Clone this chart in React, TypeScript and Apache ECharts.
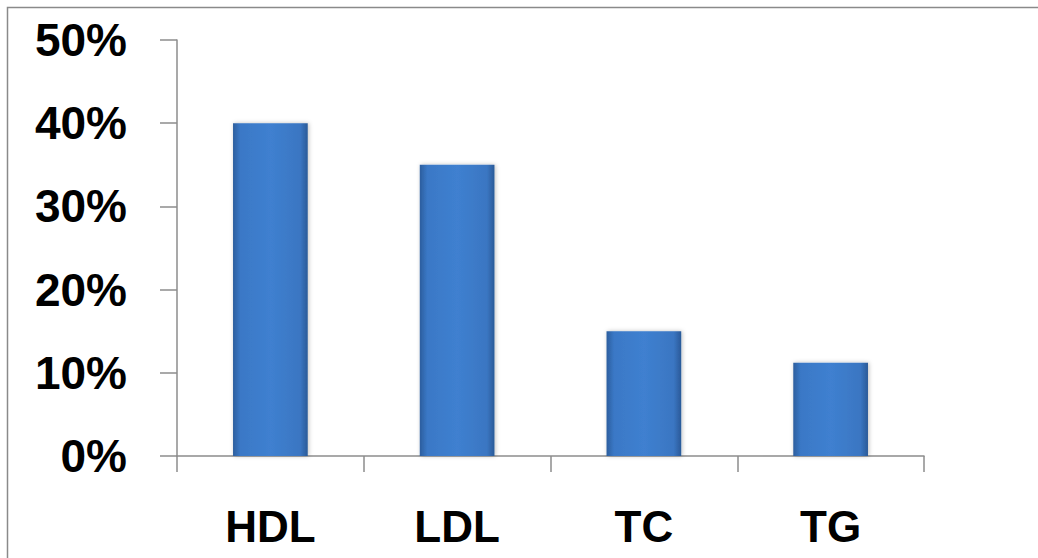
import React, { useEffect, useRef } from "react";
import * as echarts from "echarts";

const categories = ["HDL", "LDL", "TC", "TG"];
const values = [0.4, 0.35, 0.15, 0.112];
const yTicks = [0, 0.1, 0.2, 0.3, 0.4, 0.5];

export default function App() {
  const ref = useRef<HTMLDivElement>(null);
  useEffect(() => {
    const chart = echarts.init(ref.current!, null, { renderer: "svg" });
    const font = "'Liberation Sans', Arial, sans-serif";
    chart.setOption({
      animation: false,
      backgroundColor: "#ffffff",
      graphic: [
        {
          type: "rect",
          shape: { x: 7.5, y: 7.5, width: 1040, height: 560 },
          style: { fill: "none", stroke: "#8a8a8a", lineWidth: 1.5 },
          silent: true,
        },
      ],
      grid: { left: 177, right: 114, top: 40, bottom: 102 },
      xAxis: {
        type: "category",
        data: categories,
        axisLine: { show: true, lineStyle: { color: "#8c8c8c", width: 1.5 } },
        axisTick: { show: true, length: 16, lineStyle: { color: "#8c8c8c", width: 1.5 } },
        axisLabel: {
          color: "#000",
          fontFamily: font,
          fontWeight: "bold",
          fontSize: 44,
          margin: 48,
        },
      },
      yAxis: {
        type: "value",
        min: 0,
        max: 0.5,
        interval: 0.1,
        splitLine: { show: false },
        axisLine: { show: true, lineStyle: { color: "#8c8c8c", width: 1.5 } },
        axisTick: { show: true, length: 17, lineStyle: { color: "#8c8c8c", width: 1.5 } },
        axisLabel: {
          color: "#000",
          fontFamily: font,
          fontWeight: "bold",
          fontSize: 46,
          margin: 50,
          formatter: (v: number) => {
            const t = yTicks.find((x) => Math.abs(x - v) < 1e-9);
            return Math.round((t ?? v) * 100) + "%";
          },
        },
      },
      series: [
        {
          type: "bar",
          data: values,
          barWidth: "40%",
          itemStyle: {
            color: new echarts.graphic.LinearGradient(0, 0, 1, 0, [
              { offset: 0, color: "#2c5e9e" },
              { offset: 0.1, color: "#3a78c6" },
              { offset: 0.5, color: "#3f80d0" },
              { offset: 0.9, color: "#3a76c2" },
              { offset: 1, color: "#2a5a98" },
            ]),
            shadowColor: "rgba(0,0,0,0.25)",
            shadowBlur: 4,
            shadowOffsetX: 1,
          },
        },
      ],
    });
    return () => chart.dispose();
  }, []);
  return <div ref={ref} style={{ width: 1038, height: 558, position: "absolute", left: 0, top: 0 }} />;
}
